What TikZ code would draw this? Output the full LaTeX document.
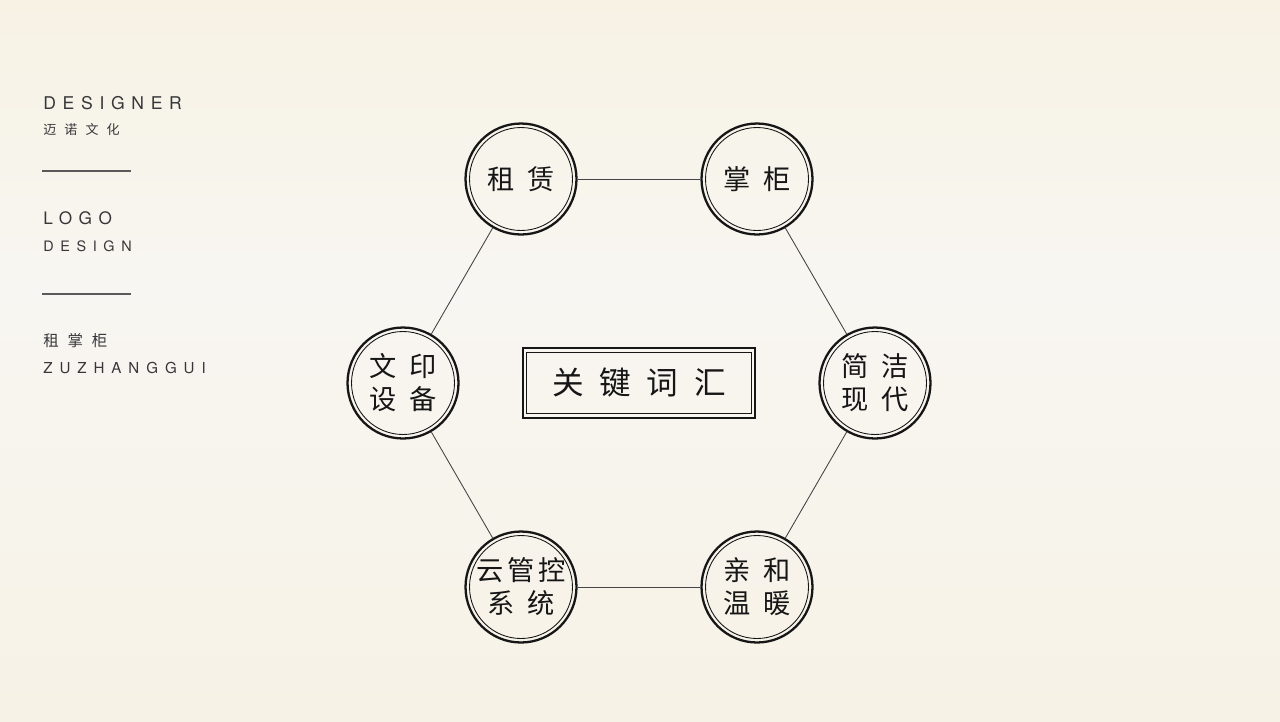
\documentclass[tikz,border=0pt]{standalone}
\usepackage{fontspec}
\setmainfont{TeX Gyre Heros}
\newfontfamily\cjk{Noto Sans CJK SC}
\newfontfamily\wide[LetterSpace=38]{TeX Gyre Heros}
\newfontfamily\wider[LetterSpace=46]{TeX Gyre Heros}

\definecolor{bgtop}{RGB}{244,234,200}
\definecolor{bgmid}{RGB}{248,246,242}
\definecolor{bgbot}{RGB}{245,238,218}
\definecolor{ink}{RGB}{22,22,22}
\definecolor{sidegray}{RGB}{55,55,58}
\definecolor{rulegray}{RGB}{90,90,90}

\pgfdeclareverticalshading{paper}{100bp}{color(0bp)=(bgbot); color(20bp)=(bgbot!60!bgmid);
  color(55bp)=(bgmid); color(82bp)=(bgtop!45!bgmid); color(100bp)=(bgtop)}

\newcommand\cgap{\hspace{7pt}}
\newcommand\kgap{\hspace{9pt}}

\tikzset{
  side/.style={anchor=west, inner sep=0pt, text=sidegray},
  rule/.style={draw=rulegray, line width=0.6pt},
  word/.style={circle, draw=ink, line width=1.3pt, minimum size=2.22cm, inner sep=0pt,
    align=center, text=ink, font={\cjk\fontsize{15.5}{18.8}\selectfont}},
  ring/.style={draw=ink, line width=0.5pt},
  keybox/.style={rectangle, draw=ink, line width=1.4pt, outer sep=0pt,
    minimum width=4.65cm, minimum height=1.39cm, text=ink,
    font={\cjk\fontsize{18}{20}\selectfont}},
  link/.style={draw=ink!80, line width=0.5pt},
}

\begin{document}
\begin{tikzpicture}[x=0.02cm, y=-0.02cm]
\shade[shading=paper] (0,0) rectangle (1280,721);
\useasboundingbox (0,0) rectangle (1280,721);

% left column
\node[side, font={\wide\fontsize{10}{12}\selectfont}] (designer) at (43,103) {DESIGNER};
\node[side, font={\cjk\fontsize{7.4}{9}\selectfont}] (studio) at (43,130) {迈\hspace{4.6pt}诺\hspace{4.6pt}文\hspace{4.6pt}化};
\coordinate (rulea1) at (42,171);
\coordinate (rulea2) at (131,171);
\draw[rule] (rulea1) -- (rulea2);
\node[side, font={\wide\fontsize{9.8}{12}\selectfont}] (logo) at (43,218) {LOGO};
\node[side, font={\wider\fontsize{8.2}{10}\selectfont}] (design) at (43,246) {DESIGN};
\coordinate (ruleb1) at (42,294);
\coordinate (ruleb2) at (131,294);
\draw[rule] (ruleb1) -- (ruleb2);
\node[side, font={\cjk\fontsize{8.8}{10}\selectfont}] (brand) at (43,341) {租\hspace{5pt}掌\hspace{5pt}柜};
\node[side, font={\wider\fontsize{8.6}{10}\selectfont}] (pinyin) at (43,368) {ZUZHANGGUI};

% keyword ring
\node[word] (rent)    at (521,179) {租\cgap 赁};
\node[word] (keeper)  at (757,179) {掌\cgap 柜};
\node[word] (modern)  at (875,383) {简\cgap 洁\\现\cgap 代};
\node[word] (warm)    at (757,587) {亲\cgap 和\\温\cgap 暖};
\node[word] (cloud)   at (521,587) {云\hspace{2pt}管\hspace{2pt}控\\系\cgap 统};
\node[word] (printer) at (403,383) {文\cgap 印\\设\cgap 备};

\foreach \n in {rent,keeper,modern,warm,cloud,printer}
  \draw[ring] (\n.center) circle (1.03cm);

\path (rent) edge[link] (keeper)
      (keeper) edge[link] (modern)
      (modern) edge[link] (warm)
      (warm) edge[link] (cloud)
      (cloud) edge[link] (printer)
      (printer) edge[link] (rent);

% centre box
\node[keybox] (keywords) at (639,383) {关\kgap 键\kgap 词\kgap 汇};
\draw[ring] ([shift={(0.08cm,-0.08cm)}]keywords.north west) rectangle ([shift={(-0.08cm,0.08cm)}]keywords.south east);
\end{tikzpicture}
\end{document}
